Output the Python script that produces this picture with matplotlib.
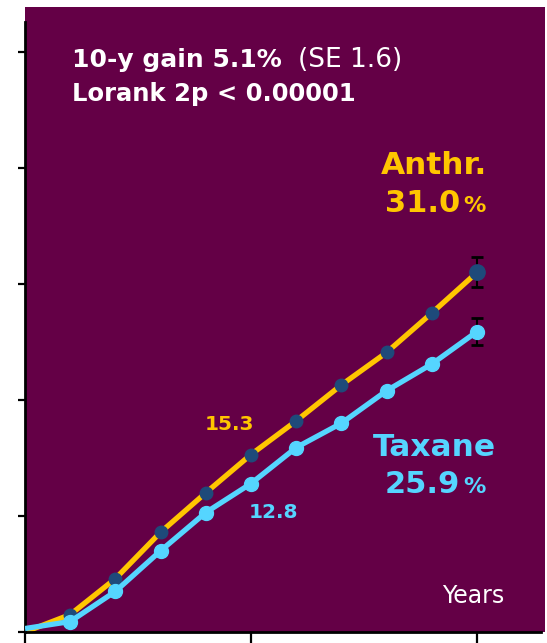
import numpy as np
import matplotlib
matplotlib.use("Agg")
import matplotlib.pyplot as plt

# cumulative event rate (%) by year of follow-up
years = [0, 1, 2, 3, 4, 5, 6, 7, 8, 9, 10]
anthr = [0.0, 1.5, 4.6, 8.6, 12.0, 15.3, 18.2, 21.3, 24.1, 27.5, 31.0]
taxane = [0.3, 0.9, 3.5, 7.0, 10.3, 12.8, 15.9, 18.0, 20.8, 23.1, 25.9]
anthr_se_10y = 1.3
taxane_se_10y = 1.2

BG = "#640046"
GOLD = "#ffc600"
SKY = "#55d5ff"
NAVY = "#1e4a7a"

W, H = 547, 643
fig = plt.figure(figsize=(W / 100, H / 100), dpi=100)
ax = fig.add_axes([25 / W, 11 / H, 520 / W, 625 / H])
ax.set_facecolor(BG)

px_year = 45.2
px_pct = 11.6
ax.set_xlim(0, 520 / px_year)
ax.set_ylim(0, 625 / px_pct)

for side in ("top", "right"):
    ax.spines[side].set_visible(False)
ax.spines["left"].set_linewidth(2.0)
ax.spines["bottom"].set_linewidth(2.0)
ax.spines["left"].set_bounds(0, 52.6)
ax.spines["bottom"].set_bounds(0, 516 / px_year)

ax.set_xticks([0, 5, 10])
ax.set_yticks([0, 10, 20, 30, 40, 50])
ax.tick_params(axis="y", direction="out", length=5, width=1.6, labelleft=False)
ax.tick_params(axis="x", direction="out", length=8, width=1.6, labelbottom=False)

# anthracycline curve
ax.plot(years, anthr, color=GOLD, lw=3.8, solid_capstyle="butt", zorder=2)
ax.errorbar(years[-1], anthr[-1], yerr=anthr_se_10y, color="black", lw=1.5,
            capsize=4, capthick=2, zorder=2.5)
ax.plot(years[1:-1], anthr[1:-1], "o", color=NAVY, ms=9, zorder=3)
ax.plot(years[-1], anthr[-1], "o", color=NAVY, ms=11, zorder=3)

# taxane curve
ax.errorbar(years[-1], taxane[-1], yerr=taxane_se_10y, color="black", lw=1.5,
            capsize=4, capthick=2, zorder=3.5)
ax.plot(years, taxane, color=SKY, lw=3.8, solid_capstyle="butt", zorder=4)
ax.plot(years[1:], taxane[1:], "o", color=SKY, ms=10, zorder=4)

# headline
ax.text(1.05, 48.7, "10-y gain 5.1%", color="white", fontsize=18,
        fontweight="bold", va="baseline")
ax.text((298 - 25.5) / px_year, 48.7, "(SE 1.6)", color="white", fontsize=19,
        va="baseline")
ax.text(1.05, 45.8, "Lorank 2p < 0.00001", color="white", fontsize=17.5,
        fontweight="bold", va="baseline")

# group labels
xc = (435 - 25.5) / px_year
xs = (461 - 25.5) / px_year
ax.text(xc, 39.5, "Anthr.", color=GOLD, fontsize=22.5, fontweight="bold",
        ha="center", va="baseline")
ax.text(xs, 36.2, f"{anthr[-1]:.1f}", color=GOLD, fontsize=22,
        fontweight="bold", ha="right", va="baseline")
ax.text(xs + 0.05, 36.2, "%", color=GOLD, fontsize=16, fontweight="bold",
        ha="left", va="baseline")

ax.text(xc, 15.2, "Taxane", color=SKY, fontsize=22.5, fontweight="bold",
        ha="center", va="baseline")
ax.text(xs, 12.0, f"{taxane[-1]:.1f}", color=SKY, fontsize=22,
        fontweight="bold", ha="right", va="baseline")
ax.text(xs + 0.05, 12.0, "%", color=SKY, fontsize=16, fontweight="bold",
        ha="left", va="baseline")

# 5-year values
ax.text(3.97, 17.4, f"{anthr[5]:.1f}", color=GOLD, fontsize=14.5,
        fontweight="bold", va="baseline")
ax.text(4.94, 9.8, f"{taxane[5]:.1f}", color=SKY, fontsize=14.5,
        fontweight="bold", va="baseline")

ax.text((443 - 25.5) / px_year, 2.5, "Years", color="white", fontsize=17,
        va="baseline")

fig.savefig("out.png", dpi=100, facecolor="white")
